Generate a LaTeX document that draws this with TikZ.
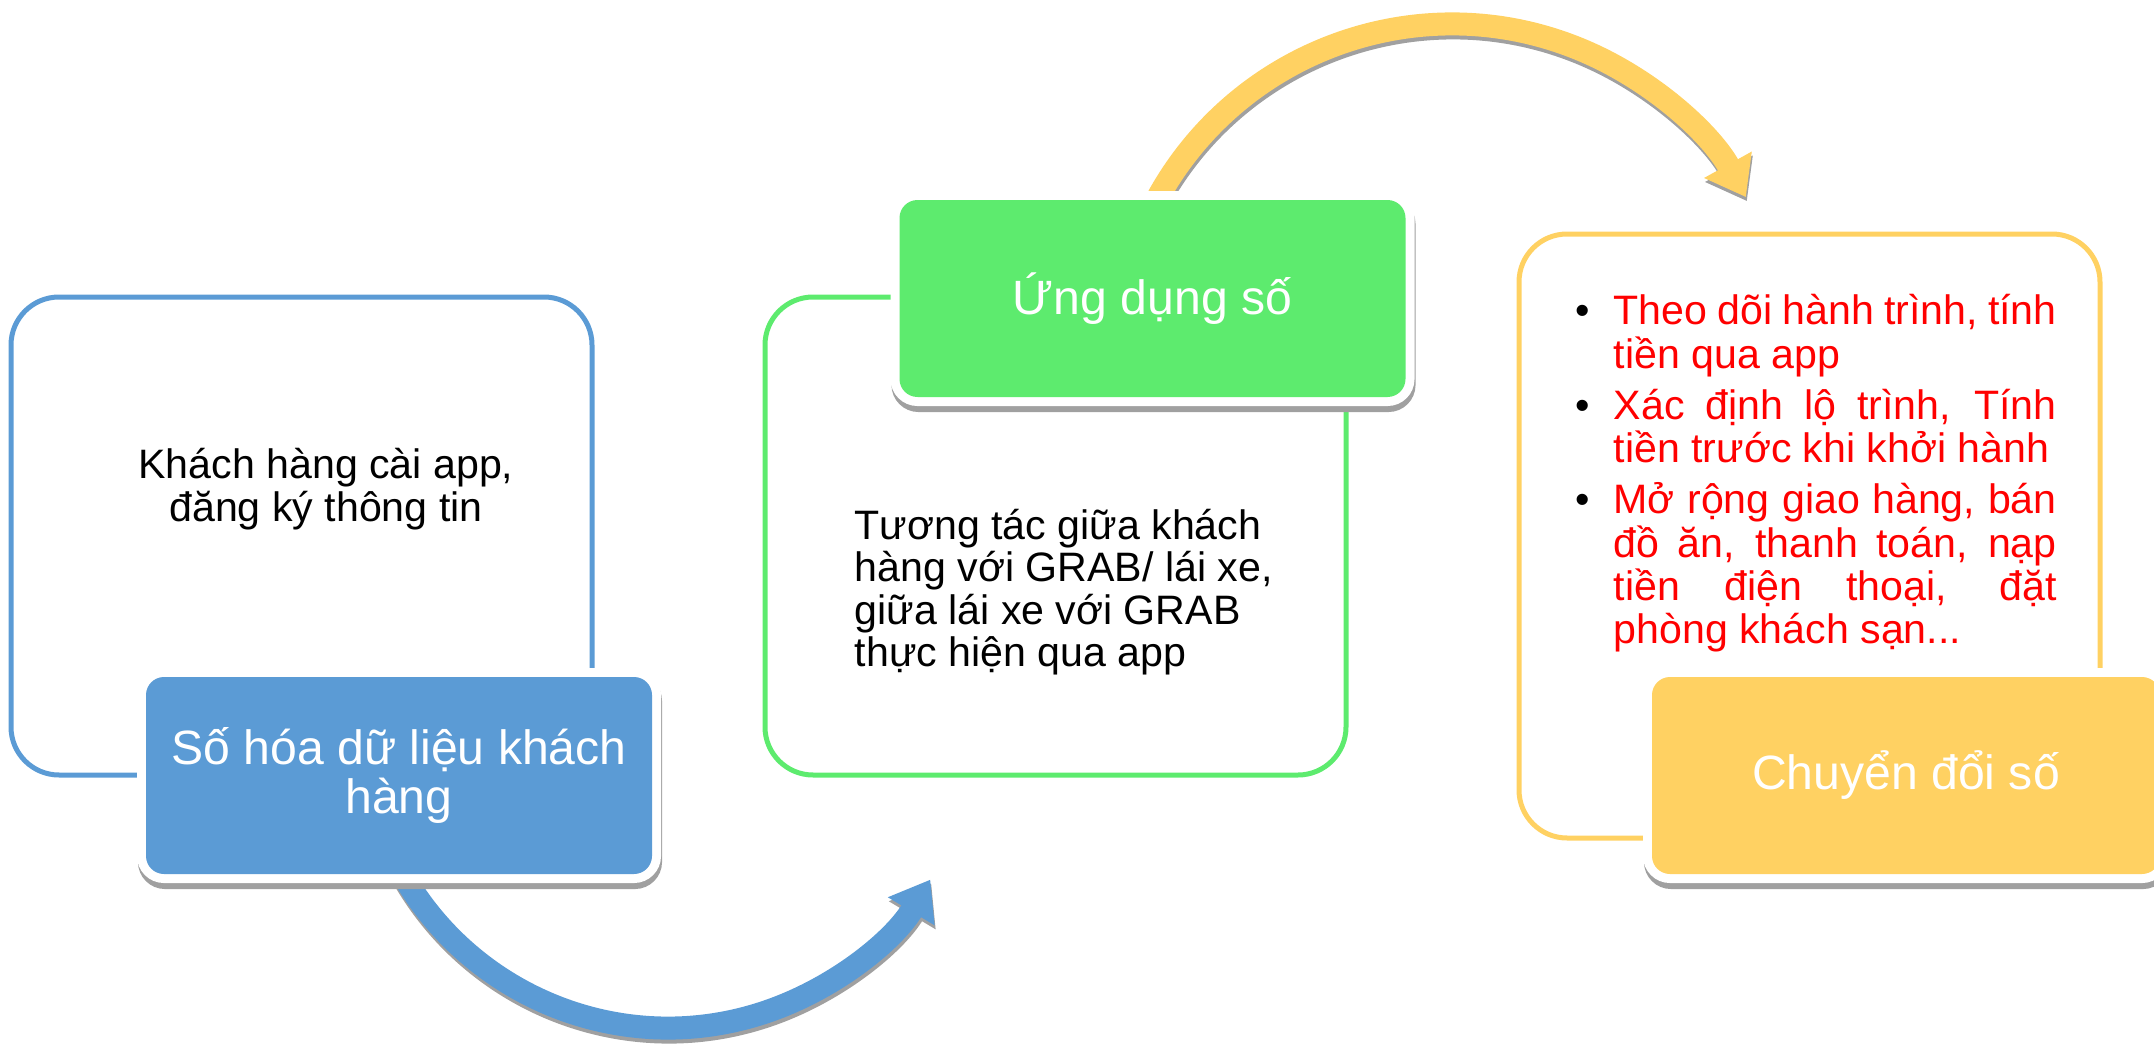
\documentclass[tikz,border=0pt]{standalone}
\usepackage{fontspec}
\setmainfont{Liberation Sans}
\usetikzlibrary{arrows.meta,shadows,calc}

\definecolor{sohoablue}{HTML}{5B9BD5}
\definecolor{ungdunggreen}{HTML}{5DEB6E}
\definecolor{chuyendoiyellow}{HTML}{FFD162}
\definecolor{shadowgray}{HTML}{A0A0A0}

\hyphenpenalty=10000
\exhyphenpenalty=10000

\newcommand{\bitem}{\noindent\llap{\textcolor{black}{\textbullet}\hspace{2.4mm}}}

\begin{document}
\begin{tikzpicture}[x=0.1mm,y=0.1mm,
    outlinebox/.style={draw=#1, line width=0.5mm, rounded corners=4.8mm,
        minimum width=58.1mm, inner sep=0},
    titlebox/.style={fill=#1, rounded corners=1.8mm, minimum width=50.6mm,
        minimum height=19.7mm, text=white, align=center, inner sep=0,
        font=\fontsize{13.7}{14.2}\selectfont,
        drop shadow={shadow xshift=0.1mm, shadow yshift=-0.6mm, fill=shadowgray,
            draw=shadowgray, line width=1.8mm, opacity=1},
        preaction={draw=white, line width=1.8mm}},
    bodytext/.style={font=\fontsize{11.7}{12.1}\selectfont, inner sep=0},
    bandarrow/.style={draw=#1, line width=2.3mm,
        -{Triangle[length=3.7mm, width=5.2mm]}},
    bandshadow/.style={bandarrow=shadowgray,
        transform canvas={xshift=0.1mm, yshift=-0.4mm}}]
    \useasboundingbox (0,0) rectangle (2154,1046);

    % outer frames
    \node[outlinebox=sohoablue, minimum height=47.8mm] (khachhang) at (301.5,510) {};
    \node[outlinebox=ungdunggreen, minimum height=47.8mm] (tuongtacbox) at (1055.5,510) {};
    \node[outlinebox=chuyendoiyellow, minimum height=60.4mm] (tienichbox) at (1809.5,510) {};

    % frame texts
    \node[bodytext, align=center] (dangky) at (326,557) {Khách hàng cài app,\\đăng ký thông tin};
    \node[bodytext, align=left, anchor=west] (tuongtac) at (854,454)
        {Tương tác giữa khách\\hàng với GRAB/ lái xe,\\giữa lái xe với GRAB\\thực hiện qua app};
    \node[bodytext, text=red, text width=44.3mm, align=justify, anchor=north west,
        font=\fontsize{11.7}{12.3}\selectfont] (tienich) at (1613,752)
        {\bitem Theo dõi hành trình, tính\linebreak tiền qua app\par\vspace{0.8mm}
         \bitem Xác định lộ trình, Tính\linebreak tiền trước khi khởi hành\par\vspace{0.8mm}
         \bitem Mở rộng giao hàng, bán\linebreak đồ ăn, thanh toán, nạp\linebreak
         tiền điện thoại, đặt\linebreak phòng khách sạn...};

    % curved arrows
    \coordinate (bluec) at (668,324);
    \coordinate (yellowc) at (1452,686);
    \coordinate (bluestart) at ($(bluec)+(200:30.6mm)$);
    \coordinate (yellowstart) at ($(yellowc)+(155:33.6mm)$);
    \draw[bandshadow] (bluestart) arc[start angle=200, end angle=329, radius=30.6mm];
    \draw[bandarrow=sohoablue] (bluestart) arc[start angle=200, end angle=329, radius=30.6mm];
    \draw[bandshadow] (yellowstart) arc[start angle=155, end angle=29, radius=33.6mm];
    \draw[bandarrow=chuyendoiyellow] (yellowstart) arc[start angle=155, end angle=29, radius=33.6mm];

    % title boxes
    \node[titlebox=sohoablue] (sohoa) at (399,270.5) {Số hóa dữ liệu khách\\hàng};
    \node[titlebox=ungdunggreen] (ungdung) at (1152.5,747.5) {Ứng dụng số};
    \node[titlebox=chuyendoiyellow, minimum width=50.8mm] (chuyendoi) at (1906,270.5) {Chuyển đổi số};
\end{tikzpicture}
\end{document}
